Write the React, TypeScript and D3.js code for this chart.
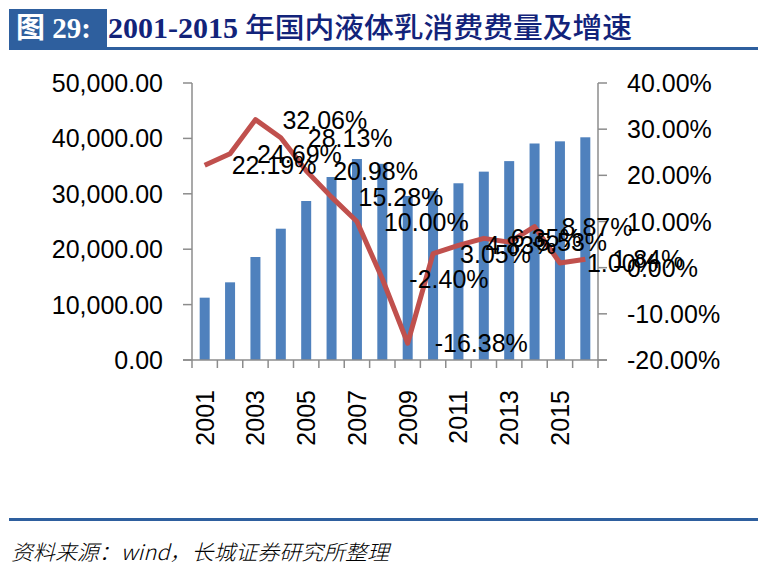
import React from "react";
import * as d3 from "d3";

const years = ["2001","2002","2003","2004","2005","2006","2007","2008","2009","2010","2011","2012","2013","2014","2015","2016"];
const consumption = [11250, 14020, 18590, 23700, 28700, 33030, 36280, 35410, 29610, 30510, 31900, 34000, 35900, 39080, 39470, 40200];
const growth = [22.19, 24.69, 32.06, 28.13, 20.98, 15.28, 10.0, -2.4, -16.38, 3.05, 4.83, 6.35, 5.53, 8.87, 1.0, 1.84];
const leftTicks = [0, 10000, 20000, 30000, 40000, 50000];
const rightTicks = [-20, -10, 0, 10, 20, 30, 40];
const xLabelYears = ["2001","2003","2005","2007","2009","2011","2013","2015"];

const FONT = "'Liberation Sans', Arial, sans-serif";

export default function App() {
  const W = 784, H = 575;
  const x0 = 192, x1 = 598, yTop = 83, yBot = 360;
  const xc = d3.scaleBand<string>().domain(years).range([x0, x1]);
  const yL = d3.scaleLinear().domain([0, 50000]).range([yBot, yTop]);
  const yR = d3.scaleLinear().domain([-20, 40]).range([yBot, yTop]);
  const cx = (d: string) => (xc(d) as number) + xc.bandwidth() / 2;
  const line = d3.line<number>().x((_, i) => cx(years[i])).y((v) => yR(v));
  const fmtL = d3.format(",.2f");
  const axisColor = "#8c8c8c";
  const bw = 10;

  return (
    <svg width={W} height={H} style={{ position: "absolute", left: 0, top: 0, background: "#fff" }}>
      {/* title */}
      <rect x={9} y={9} width={98} height={38} fill="#2e5f9e" />
      <text x={16} y={38} fill="#fff" fontFamily="'Liberation Serif', 'Noto Sans CJK SC', serif" fontWeight="bold" fontSize={29}>图 29:</text>
      <text x={108} y={38} fill="#12237a" fontFamily="'Liberation Serif', serif" fontWeight="bold" fontSize={29} textLength={130} lengthAdjust="spacingAndGlyphs">2001-2015</text>
      <text x={245} y={38} fill="#12237a" fontFamily="'Noto Sans CJK SC', sans-serif" fontWeight={500} fontSize={28} textLength={387} lengthAdjust="spacingAndGlyphs">年国内液体乳消费费量及增速</text>
      <rect x={9} y={47} width={749} height={3} fill="#2e5f9e" />

      {/* bars */}
      {years.map((yr, i) => (
        <rect key={yr} x={cx(yr) - bw / 2} y={yL(consumption[i])} width={bw} height={yBot - yL(consumption[i])} fill="#4f81bd" />
      ))}

      {/* left axis */}
      <line x1={x0} x2={x0} y1={yTop} y2={yBot} stroke={axisColor} strokeWidth={1.5} />
      {leftTicks.map((t) => (
        <g key={t}>
          <line x1={x0 - 9} x2={x0} y1={yL(t)} y2={yL(t)} stroke={axisColor} strokeWidth={1.5} />
          <text x={163} y={yL(t)} textAnchor="end" dominantBaseline="central" fontFamily={FONT} fontSize={25} fill="#000">{fmtL(t)}</text>
        </g>
      ))}

      {/* right axis */}
      <line x1={x1} x2={x1} y1={yTop} y2={yBot} stroke={axisColor} strokeWidth={1.5} />
      {rightTicks.map((t) => (
        <g key={t}>
          <line x1={x1} x2={x1 + 9} y1={yR(t)} y2={yR(t)} stroke={axisColor} strokeWidth={1.5} />
          <text x={627} y={yR(t)} textAnchor="start" dominantBaseline="central" fontFamily={FONT} fontSize={25} fill="#000">{t.toFixed(2) + "%"}</text>
        </g>
      ))}

      {/* bottom axis */}
      <line x1={x0 - 9} x2={x1 + 9} y1={yBot} y2={yBot} stroke={axisColor} strokeWidth={1.5} />
      {years.concat(["end"]).map((yr, i) => {
        const xx = i < years.length ? (xc(yr) as number) : x1;
        return <line key={"t" + i} x1={xx} x2={xx} y1={yBot} y2={yBot + 8} stroke={axisColor} strokeWidth={1.5} />;
      })}
      {xLabelYears.map((yr) => (
        <text key={yr} transform={`translate(${cx(yr)},390) rotate(-90)`} textAnchor="end" dominantBaseline="central" fontFamily={FONT} fontSize={25} fill="#000">{yr}</text>
      ))}

      {/* line */}
      <path d={line(growth) as string} fill="none" stroke="#c0504d" strokeWidth={5} strokeLinejoin="round" />

      {/* data labels */}
      {growth.map((v, i) => (
        <text key={"l" + i} x={cx(years[i]) + 27} y={yR(v)} dominantBaseline="central" fontFamily={FONT} fontSize={25} fill="#000">{v.toFixed(2) + "%"}</text>
      ))}

      {/* footer */}
      <rect x={9} y={518} width={749} height={3} fill="#2e5f9e" />
      <text x={11} y={560} fontFamily="'Noto Sans CJK SC', serif" fontStyle="italic" fontWeight={300} fontSize={21} fill="#000" textLength={378} lengthAdjust="spacingAndGlyphs">资料来源：wind，长城证券研究所整理</text>
    </svg>
  );
}
